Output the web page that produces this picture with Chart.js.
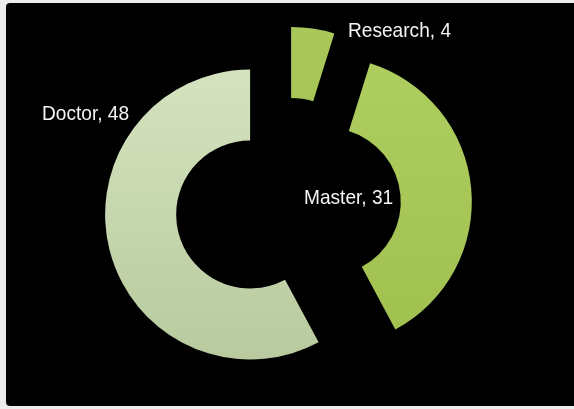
<!DOCTYPE html>
<html>
<head>
<meta charset="utf-8">
<script src="https://cdn.jsdelivr.net/npm/chart.js@4/dist/chart.umd.min.js"></script>
<style>
  html, body { margin: 0; padding: 0; background: #ececec; }
  #wrap { width: 574px; height: 409px; }
</style>
</head>
<body>
<div id="wrap"><canvas id="myChart" width="574" height="409"></canvas></div>
<script>
let labels1 = ['Research', 'Master', 'Doctor'];
let data1 = [4, 31, 48];

// colours, top -> bottom of each slice
let topColors = ['#a9c85a', '#afcf62', '#d9e7c3'];
let bottomColors = ['#9ebd4e', '#9fc04e', '#b8ca9e'];

// how far each slice is pulled out from the centre (px)
let explode1 = [34, 41, 37];

// where each label sits, relative to the chart centre
let labelShift = [[62, -168.5], [18, -1.5], [-244, -85.5]];

function sliceFill(context) {
    let chart = context.chart;
    if (!chart.chartArea) {
        return topColors[context.dataIndex];
    }
    let g = chart.ctx.createLinearGradient(0, 25, 0, 360);
    g.addColorStop(0, topColors[context.dataIndex]);
    g.addColorStop(1, bottomColors[context.dataIndex]);
    return g;
}

let backdrop = {
    id: 'backdrop',
    beforeDraw(chart) {
        let ctx = chart.ctx;
        ctx.save();
        ctx.fillStyle = '#000000';
        ctx.beginPath();
        ctx.roundRect(6, 3, 574, 403, 4);
        ctx.fill();
        ctx.restore();
    }
};

// pull the slices apart along their middle angle
let explode = {
    id: 'explode',
    afterDatasetUpdate(chart, args) {
        args.meta.data.forEach((arc, i) => {
            let mid = (arc.startAngle + arc.endAngle) / 2;
            arc.x += Math.cos(mid) * explode1[i];
            arc.y += Math.sin(mid) * explode1[i];
        });
    }
};

let sliceLabels = {
    id: 'sliceLabels',
    afterDatasetsDraw(chart) {
        let ctx = chart.ctx;
        let area = chart.chartArea;
        let cx = (area.left + area.right) / 2;
        let cy = (area.top + area.bottom) / 2;
        ctx.save();
        ctx.fillStyle = '#f4f4f4';
        ctx.font = '21px "Liberation Sans", Arial, sans-serif';
        ctx.textBaseline = 'alphabetic';
        ctx.textAlign = 'left';
        ctx.shadowColor = 'rgba(0,0,0,0.6)';
        ctx.shadowBlur = 2;
        labels1.forEach((name, i) => {
            ctx.save();
            ctx.translate(cx + labelShift[i][0], cy + labelShift[i][1]);
            ctx.scale(0.91, 1);
            ctx.fillText(name + ', ' + data1[i], 0, 0);
            ctx.restore();
        });
        ctx.restore();
    }
};

let doughnut = document.getElementById('myChart').getContext('2d');

let chart = new Chart(doughnut, {

    type: 'doughnut',

    data: {
        labels: labels1,
        datasets: [{
            data: data1,
            backgroundColor: sliceFill,
            borderWidth: 0,
            radius: 145,
            cutout: '51%'
        }]
    },

    options: {
        responsive: false,
        animation: false,
        events: [],
        layout: {
            padding: { top: 2, bottom: 0, left: 0, right: 2 }
        },
        plugins: {
            legend: { display: false },
            tooltip: { enabled: false }
        }
    },

    plugins: [backdrop, explode, sliceLabels]
});
</script>
</body>
</html>
